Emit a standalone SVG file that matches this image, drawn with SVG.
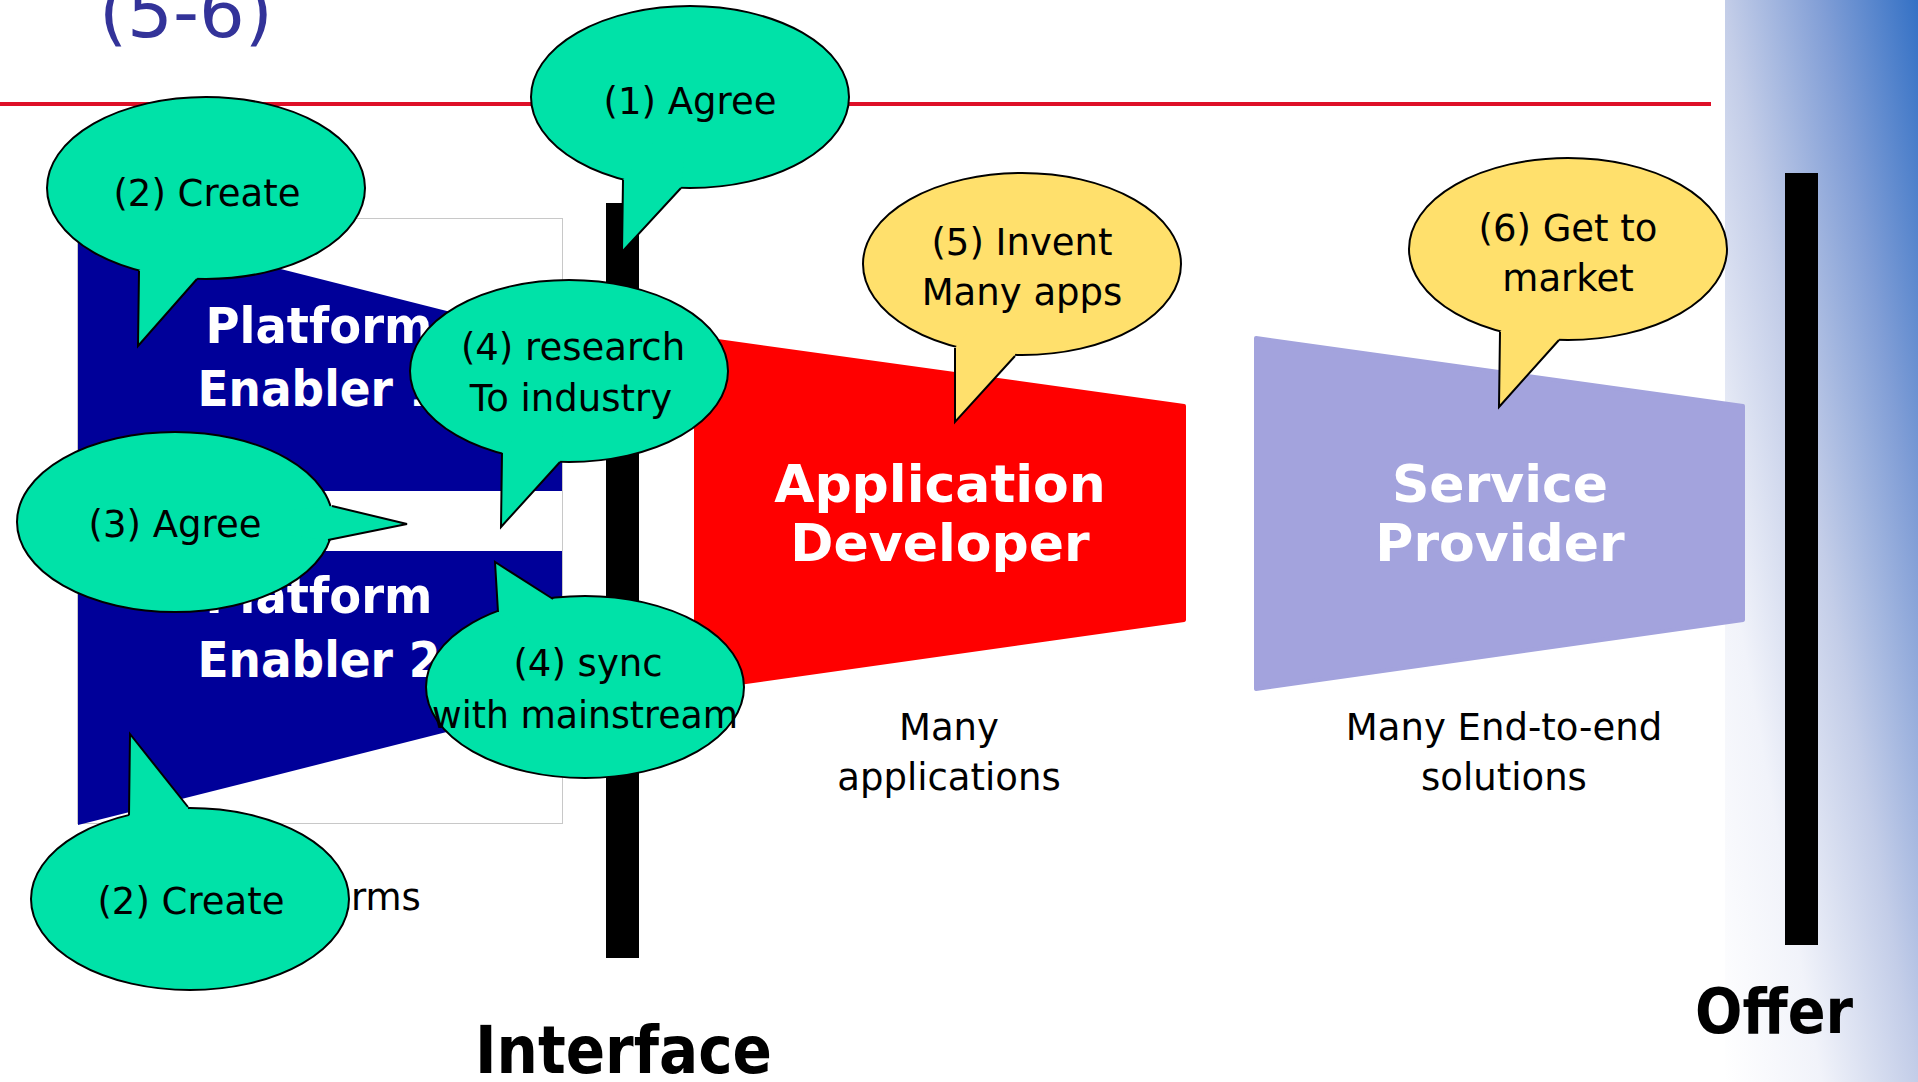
<svg xmlns="http://www.w3.org/2000/svg" width="1918" height="1082" viewBox="0 0 1918 1082">
  <defs>
    <linearGradient id="panelGrad" x1="0" y1="1" x2="1" y2="0">
      <stop offset="0" stop-color="#FFFFFF"/>
      <stop offset="0.25" stop-color="#F1F3FA"/>
      <stop offset="0.5" stop-color="#C3CDE8"/>
      <stop offset="0.75" stop-color="#819ED6"/>
      <stop offset="1" stop-color="#3471C5"/>
    </linearGradient>
    <style>
      .g { fill:#00E2A8; }
      .y { fill:#FFE06C; }
      .edge { stroke:#000; stroke-width:2; }
      .tailline { fill:none; stroke:#000; stroke-width:2; stroke-linejoin:miter; }
      .btxt { font-family:"DejaVu Sans", Verdana, sans-serif; font-size:37px; fill:#000; text-anchor:middle; }
      .lbl { font-family:"DejaVu Sans", Verdana, sans-serif; font-size:37px; fill:#000; text-anchor:middle; }
      .big { font-family:"DejaVu Sans", Verdana, sans-serif; font-weight:bold; fill:#FFF; text-anchor:middle; }
      .axis { font-family:"DejaVu Sans", Verdana, sans-serif; font-weight:bold; fill:#000; text-anchor:middle; }
      .navy { fill:#000099; }
    </style>
  </defs>

  <rect width="1918" height="1082" fill="#FFFFFF"/>
  <rect id="panel" x="1725" y="0" width="193" height="1082" fill="url(#panelGrad)"/>

  <text id="title" x="99" y="37" font-family="'DejaVu Sans', Verdana, sans-serif" font-size="72" fill="#333399">(5-6)</text>
  <line id="rule" x1="0" y1="104" x2="1711" y2="104" stroke="#DE1028" stroke-width="4"/>

  <rect id="enablerFrame" x="77.5" y="218.5" width="485" height="605" fill="none" stroke="#C8C8C8" stroke-width="1"/>

  <g id="platform1">
    <polygon class="navy" points="78,218 562,340 562,491 78,491"/>
    <text class="big" x="319" y="343" font-size="50" textLength="227" lengthAdjust="spacingAndGlyphs">Platform</text>
    <text class="big" x="319" y="406" font-size="50" textLength="243" lengthAdjust="spacingAndGlyphs">Enabler 1</text>
  </g>

  <g id="platform2">
    <polygon class="navy" points="78,551 562,551 562,703 78,825"/>
    <text class="big" x="319" y="613" font-size="50" textLength="227" lengthAdjust="spacingAndGlyphs">Platform</text>
    <text class="big" x="319" y="677" font-size="50" textLength="243" lengthAdjust="spacingAndGlyphs">Enabler 2</text>
  </g>

  <text id="platformsLabel" x="351" y="910" font-family="'DejaVu Sans', Verdana, sans-serif" font-size="37" fill="#000">rms</text>

  <g id="appDeveloper">
    <polygon points="696,338 1184,406 1184,620 696,689" fill="#FF0000" stroke="#FF0000" stroke-width="4" stroke-linejoin="round"/>
    <text class="big" x="940" y="502" font-size="52">Application</text>
    <text class="big" x="940" y="561" font-size="52">Developer</text>
  </g>
  <g id="appLabel">
    <text class="lbl" x="949" y="740">Many</text>
    <text class="lbl" x="949" y="790">applications</text>
  </g>

  <g id="serviceProvider">
    <polygon points="1256,338 1743,406 1743,620 1256,689" fill="#A3A3DD" stroke="#A3A3DD" stroke-width="4" stroke-linejoin="round"/>
    <text class="big" x="1500" y="502" font-size="52">Service</text>
    <text class="big" x="1500" y="561" font-size="52">Provider</text>
  </g>
  <g id="serviceLabel">
    <text class="lbl" x="1504" y="740">Many End-to-end</text>
    <text class="lbl" x="1504" y="790">solutions</text>
  </g>

  <g id="interface">
    <rect x="606" y="203" width="33" height="755" fill="#000"/>
    <text class="axis" x="623.5" y="1073" font-size="65" textLength="297" lengthAdjust="spacingAndGlyphs">Interface</text>
  </g>

  <g id="offer">
    <rect x="1785" y="173" width="33" height="772" fill="#000"/>
    <text class="axis" x="1774" y="1033" font-size="63" textLength="158" lengthAdjust="spacingAndGlyphs">Offer</text>
  </g>

  <g id="bubble1" transform="translate(690,97)">
    <ellipse class="g edge" rx="159" ry="91"/>
    <polygon class="g" points="-67,83 -68,155 -9,91 0,0"/>
    <polyline class="tailline" points="-67,83 -68,155 -9,91"/>
    <text class="btxt" x="0" y="17">(1) Agree</text>
  </g>

  <g id="bubble2a" transform="translate(206,188)">
    <ellipse class="g edge" rx="159" ry="91"/>
    <polygon class="g" points="-67,83 -68,158 -9,91 0,0"/>
    <polyline class="tailline" points="-67,83 -68,158 -9,91"/>
    <text class="btxt" x="1" y="18">(2) Create</text>
  </g>

  <g id="bubble4a" transform="translate(569,371)">
    <ellipse class="g edge" rx="159" ry="91"/>
    <polygon class="g" points="-67,82 -68,156 -9,91 0,0"/>
    <polyline class="tailline" points="-67,82 -68,156 -9,91"/>
    <text class="btxt" x="4" y="-11">(4) research</text>
    <text class="btxt" x="2" y="40">To industry</text>
  </g>

  <g id="bubble3" transform="translate(175,522)">
    <ellipse class="g edge" rx="158" ry="90"/>
    <polygon class="g" points="157,-16 232,2 153,18 0,0"/>
    <polyline class="tailline" points="157,-16 232,2 153,18"/>
    <text class="btxt" x="0" y="15">(3) Agree</text>
  </g>

  <g id="bubble4b" transform="translate(585,687)">
    <ellipse class="g edge" rx="159" ry="91"/>
    <polygon class="g" points="-87,-75 -90,-125 -32,-88 0,0"/>
    <polyline class="tailline" points="-87,-75 -90,-125 -32,-88"/>
    <text class="btxt" x="3" y="-11">(4) sync</text>
    <text class="btxt" x="0" y="41" textLength="306" lengthAdjust="spacingAndGlyphs">with mainstream</text>
  </g>

  <g id="bubble2b" transform="translate(190,899)">
    <ellipse class="g edge" rx="159" ry="91"/>
    <polygon class="g" points="-61,-84 -60,-165 -2,-92 0,0"/>
    <polyline class="tailline" points="-61,-84 -60,-165 -2,-92"/>
    <text class="btxt" x="1" y="15">(2) Create</text>
  </g>

  <g id="bubble5" transform="translate(1022,264)">
    <ellipse class="y edge" rx="159" ry="91"/>
    <polygon class="y" points="-67,84 -67,158 -7,92 0,0"/>
    <polyline class="tailline" points="-67,84 -67,158 -7,92"/>
    <text class="btxt" x="0" y="-9">(5) Invent</text>
    <text class="btxt" x="0" y="41">Many apps</text>
  </g>

  <g id="bubble6" transform="translate(1568,249)">
    <ellipse class="y edge" rx="159" ry="91"/>
    <polygon class="y" points="-68,83 -69,158 -9,91 0,0"/>
    <polyline class="tailline" points="-68,83 -69,158 -9,91"/>
    <text class="btxt" x="0" y="-8">(6) Get to</text>
    <text class="btxt" x="0" y="42">market</text>
  </g>
</svg>
